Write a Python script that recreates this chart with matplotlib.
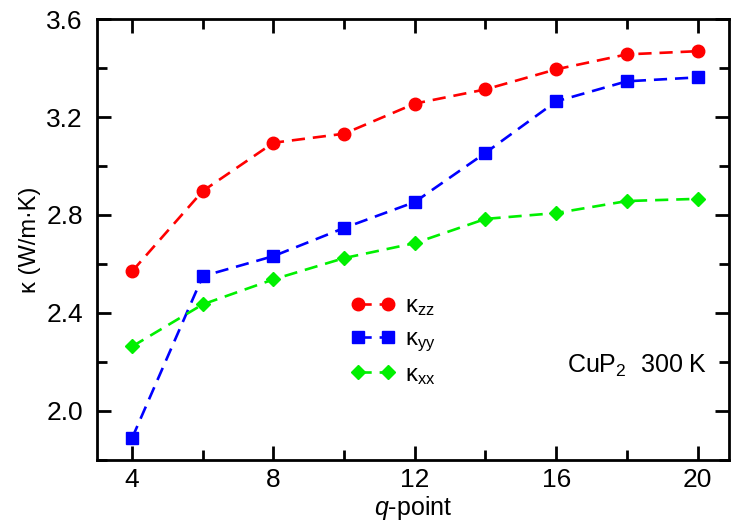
import matplotlib
matplotlib.use("Agg")
import matplotlib.pyplot as plt
from matplotlib.ticker import MultipleLocator, FormatStrFormatter
from matplotlib import font_manager

plt.rcParams['font.family'] = ['Liberation Sans', 'DejaVu Sans']
plt.rcParams['mathtext.fontset'] = 'custom'
plt.rcParams['mathtext.rm'] = 'Liberation Sans'
plt.rcParams['mathtext.it'] = 'Liberation Sans:italic'

qpoints = [4, 6, 8, 10, 12, 14, 16, 18, 20]
kappa_zz = [2.570, 2.898, 3.095, 3.132, 3.255, 3.313, 3.395, 3.456, 3.469]
kappa_yy = [1.889, 2.550, 2.632, 2.747, 2.853, 3.054, 3.264, 3.346, 3.362]
kappa_xx = [2.263, 2.435, 2.537, 2.624, 2.685, 2.784, 2.808, 2.857, 2.866]
labels = ['κ$_{\\mathrm{zz}}$', 'κ$_{\\mathrm{yy}}$', 'κ$_{\\mathrm{xx}}$']

names = {f.name for f in font_manager.fontManager.ttflist}
narrow = 'Liberation Sans Narrow' if 'Liberation Sans Narrow' in names else 'Liberation Sans'

fig = plt.figure(figsize=(7.33, 5.31), dpi=100)
ax = fig.add_axes([0.132, 0.134, 0.863, 0.830])

dash = (0, (5, 3))
ax.plot(qpoints, kappa_zz, color='#ff0000', ls=dash, lw=1.9, marker='o', ms=9, label=labels[0])
ax.plot(qpoints, kappa_yy, color='#0000ff', ls=dash, lw=1.9, marker='s', ms=8, label=labels[1])
ax.plot(qpoints, kappa_xx, color='#00f000', ls=dash, lw=1.9, marker='D', ms=7.5, label=labels[2])

ax.set_xlim(3.0, 20.9)
ax.set_ylim(1.8, 3.6)
ax.xaxis.set_major_locator(MultipleLocator(4))
ax.xaxis.set_minor_locator(MultipleLocator(2))
ax.yaxis.set_major_locator(MultipleLocator(0.4))
ax.yaxis.set_minor_locator(MultipleLocator(0.2))
ax.yaxis.set_major_formatter(FormatStrFormatter('%.1f'))
ax.tick_params(which='both', direction='in', top=True, right=True, width=2)
ax.tick_params(which='major', length=10)
ax.tick_params(which='minor', length=7)
ax.tick_params(axis='y', which='major', labelsize=19, pad=10)
ax.tick_params(axis='x', which='major', labelsize=19, pad=6)
for lab in ax.get_xticklabels():
    lab.set_family(narrow)
for s in ax.spines.values():
    s.set_linewidth(2)

ax.set_xlabel('$\\mathit{q}$-point', fontsize=18, labelpad=1)
ax.set_ylabel('κ (W/m·K)', fontsize=17, labelpad=4)

leg = ax.legend(loc='upper left', bbox_to_anchor=(0.402, 0.374), numpoints=2, frameon=False,
                fontsize=17, handlelength=1.87, handletextpad=0.4, labelspacing=0.42,
                borderpad=0, borderaxespad=0)

ax.text(0.965, 0.213, 'CuP$_2$  300 K', transform=ax.transAxes, ha='right', va='center', fontsize=18)

fig.savefig('out.png', dpi=100)
